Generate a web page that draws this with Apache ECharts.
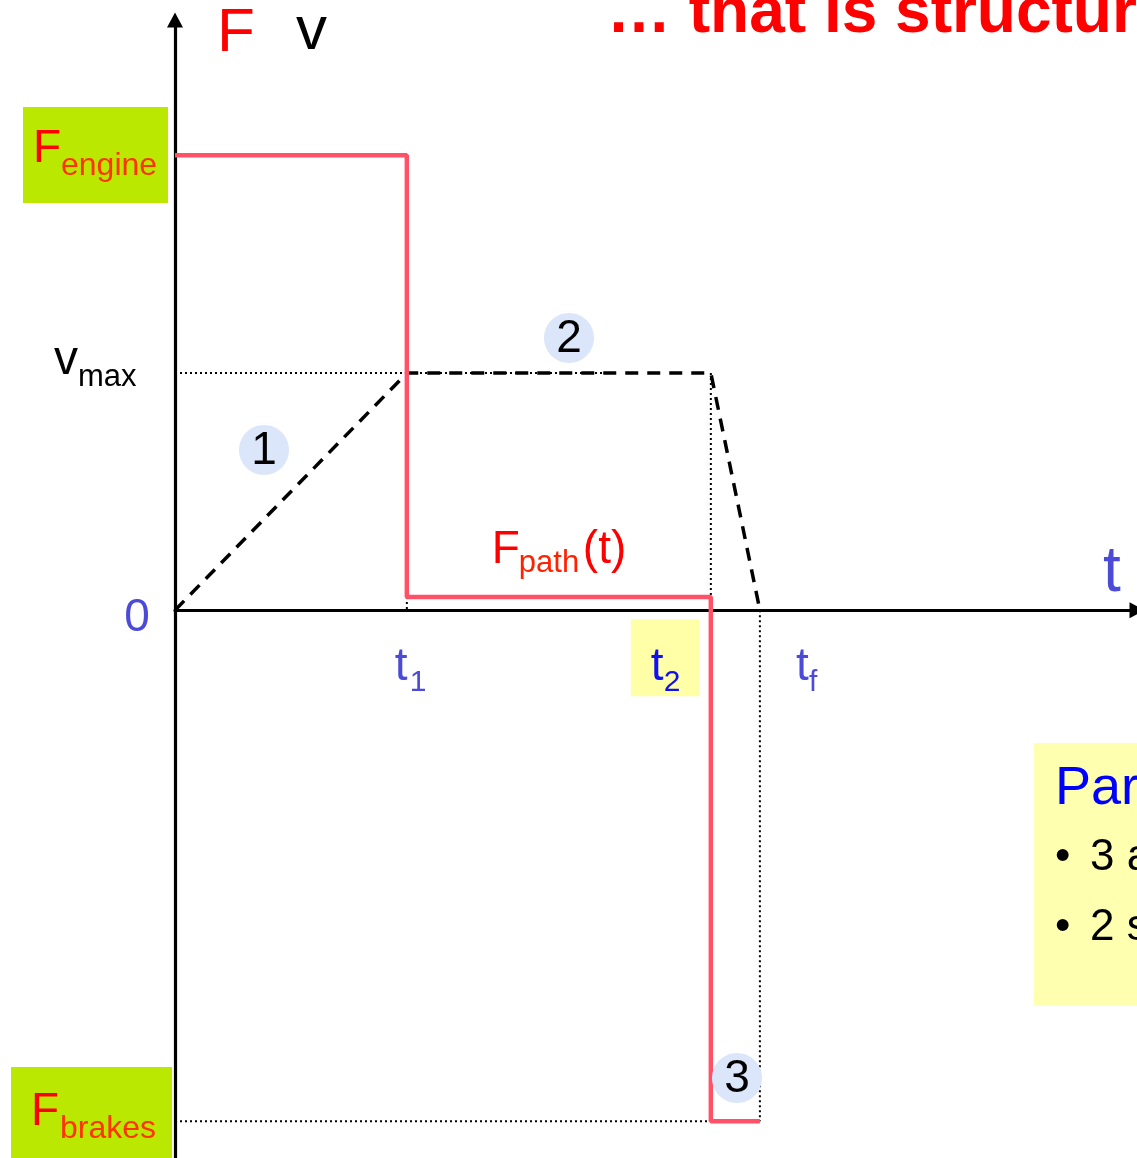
<!DOCTYPE html>
<html>
<head>
<meta charset="utf-8">
<script src="https://cdn.jsdelivr.net/npm/echarts@6/dist/echarts.min.js"></script>
<style>
  html, body { margin: 0; padding: 0; background: #fff; }
  #chart { width: 1137px; height: 1158px; }
</style>
</head>
<body>
<div id="chart"></div>
<script>
// time marks on the t axis
const timeNames = ['1', '2', 'f'];
const timeValues = [2.41, 5.57, 6.08];

// force / speed levels
const forceNames = ['engine', 'path', 'brakes'];
const forceValues = [10, 0.29, -11.23];
const vmaxValue = 5.21;

// F(t) step profile
const forceT = [0, 2.41, 2.41, 5.57, 5.57, 6.08];
const forceF = [10, 10, 0.29, 0.29, -11.23, -11.23];

// v(t) trapezoid profile
const speedT = [0, 2.41, 5.57, 6.08];
const speedV = [0, 5.21, 5.21, 0];

// end of the dotted v_max guide
const vmaxGuideEnd = 4.45;

const FONT = '"Liberation Sans", Arial, sans-serif';
const RED_LINE = '#FF5269';
const AXIS_BLUE = '#4B4BD8';

const chart = echarts.init(document.getElementById('chart'), null, { renderer: 'canvas' });

const zip = (xs, ys) => xs.map((x, i) => [x, ys[i]]);

const dotted = (pts) => ({
  type: 'line',
  data: pts,
  showSymbol: false,
  silent: true,
  lineStyle: { color: '#000', width: 2, type: [2, 3] },
  z: 1
});

const [t1, t2, tf] = timeValues;
const [fEngine, fPath, fBrakes] = forceValues;

const axisLine = {
  show: true,
  onZero: true,
  symbol: ['none', 'triangle'],
  symbolSize: [16, 15],
  lineStyle: { color: '#000', width: 3.2 }
};

chart.setOption({
  animation: false,
  backgroundColor: '#fff',
  grid: { left: 175, right: 0, top: 20, bottom: 0, containLabel: false, outerBoundsMode: 'none' },
  xAxis: {
    type: 'value',
    min: 0,
    max: 10,
    axisLine: axisLine,
    axisTick: { show: false },
    axisLabel: { show: false },
    splitLine: { show: false }
  },
  yAxis: {
    type: 'value',
    min: -12.04,
    max: 12.97,
    axisLine: axisLine,
    axisTick: { show: false },
    axisLabel: { show: false },
    splitLine: { show: false }
  },
  series: [
    dotted([[0, vmaxValue], [vmaxGuideEnd, vmaxValue]]),
    dotted([[t1, fPath], [t1, 0]]),
    dotted([[t2, vmaxValue], [t2, fPath]]),
    dotted([[tf, 0], [tf, fBrakes]]),
    dotted([[0, fBrakes], [t2, fBrakes]]),
    {
      name: 'F(t)',
      type: 'line',
      data: zip(forceT, forceF),
      showSymbol: false,
      lineStyle: { color: RED_LINE, width: 4.5 },
      z: 3
    },
    {
      name: 'v(t)',
      type: 'line',
      data: zip(speedT, speedV),
      showSymbol: false,
      lineStyle: { color: '#000', width: 3.5, type: [13, 9] },
      z: 2
    }
  ]
});

// ---- annotations ----
const px = (x, y) => chart.convertToPixel({ gridIndex: 0 }, [x, y]);

function txt(str, x, baseline, size, color, opts = {}) {
  return {
    type: 'text',
    x: x,
    y: baseline - 0.35 * size,
    z: 10,
    style: {
      text: str,
      font: (opts.weight || 'normal') + ' ' + size + 'px ' + FONT,
      fill: color,
      align: opts.align || 'left',
      verticalAlign: 'middle'
    }
  };
}
const rect = (x, y, w, h, fill) => ({ type: 'rect', z: 5, shape: { x, y, width: w, height: h }, style: { fill } });
const bubble = (cx, cy, label) => ([
  { type: 'ellipse', z: 6, shape: { cx, cy, rx: 25, ry: 25 }, style: { fill: '#DCE6FA' } },
  txt(label, cx, cy + 17, 46, '#000', { align: 'center' })
]);

const origin = px(0, 0);
const vmaxPt = px(0, vmaxValue);
const g = [];

// title (cut by the slide edge)
g.push(txt('… that is structur', 607, 37, 64, '#FF0000', { weight: 'bold' }));

// axis names
g.push(txt('F', 217, 56, 62, '#FF0000'));
g.push(txt('v', 296, 54, 62, '#000'));
g.push(txt('t', 1103, 596, 64, AXIS_BLUE));

// F_engine / F_brakes boxes
g.push(rect(23, 107, 145, 96, '#BBE800'));
g.push(txt('F', 33, 165, 46, '#FF0000'));
g.push(txt(forceNames[0], 61, 177, 32, '#FF3300'));
g.push(rect(11, 1067, 161, 91, '#BBE800'));
g.push(txt('F', 31, 1128, 46, '#FF0000'));
g.push(txt(forceNames[2], 60, 1140, 32, '#FF3300'));

// v_max and 0
g.push(txt('v', 54, vmaxPt[1] + 4, 48, '#000'));
g.push(txt('max', 78, vmaxPt[1] + 15, 31, '#000'));
g.push(txt('0', 137, origin[1] + 24, 46, AXIS_BLUE, { align: 'center' }));

// t1, t2, tf
const tp = timeValues.map(v => px(v, 0));
g.push(txt('t', tp[0][0] - 12, origin[1] + 73, 46, AXIS_BLUE));
g.push(txt(timeNames[0], tp[0][0] + 3, origin[1] + 83, 30, AXIS_BLUE));
g.push(rect(tp[1][0] - 80, origin[1] + 9, 69, 77, '#FFFFA8'));
g.push(txt('t', tp[1][0] - 60, origin[1] + 73, 46, '#1010F0'));
g.push(txt(timeNames[1], tp[1][0] - 47, origin[1] + 83, 30, '#1010F0'));
g.push(txt('t', tp[2][0] + 36, origin[1] + 73, 46, AXIS_BLUE));
g.push(txt(timeNames[2], tp[2][0] + 49, origin[1] + 83, 30, AXIS_BLUE));

// F_path(t) label
const fp = px(t1, fPath);
g.push(txt('F', fp[0] + 85, fp[1] - 31, 46, '#FF0000'));
g.push(txt(forceNames[1], fp[0] + 112, fp[1] - 23, 31, '#FF2200'));
g.push(txt('(t)', fp[0] + 176, fp[1] - 31, 46, '#FF0000'));

// phase bubbles
g.push(...bubble(264, 450, '1'));
g.push(...bubble(569, 338, '2'));
g.push(...bubble(737, 1078, '3'));

// side note box (cut by the slide edge)
g.push(rect(1034, 743, 110, 262, '#FFFFB0'));
g.push(txt('Par', 1055, 808, 54, '#0000FF'));
g.push(txt('•', 1055, 873, 44, '#000'));
g.push(txt('3 a', 1090, 873, 44, '#000'));
g.push(txt('•', 1055, 943, 44, '#000'));
g.push(txt('2 s', 1090, 943, 44, '#000'));

chart.setOption({ graphic: { elements: g } });
</script>
</body>
</html>
